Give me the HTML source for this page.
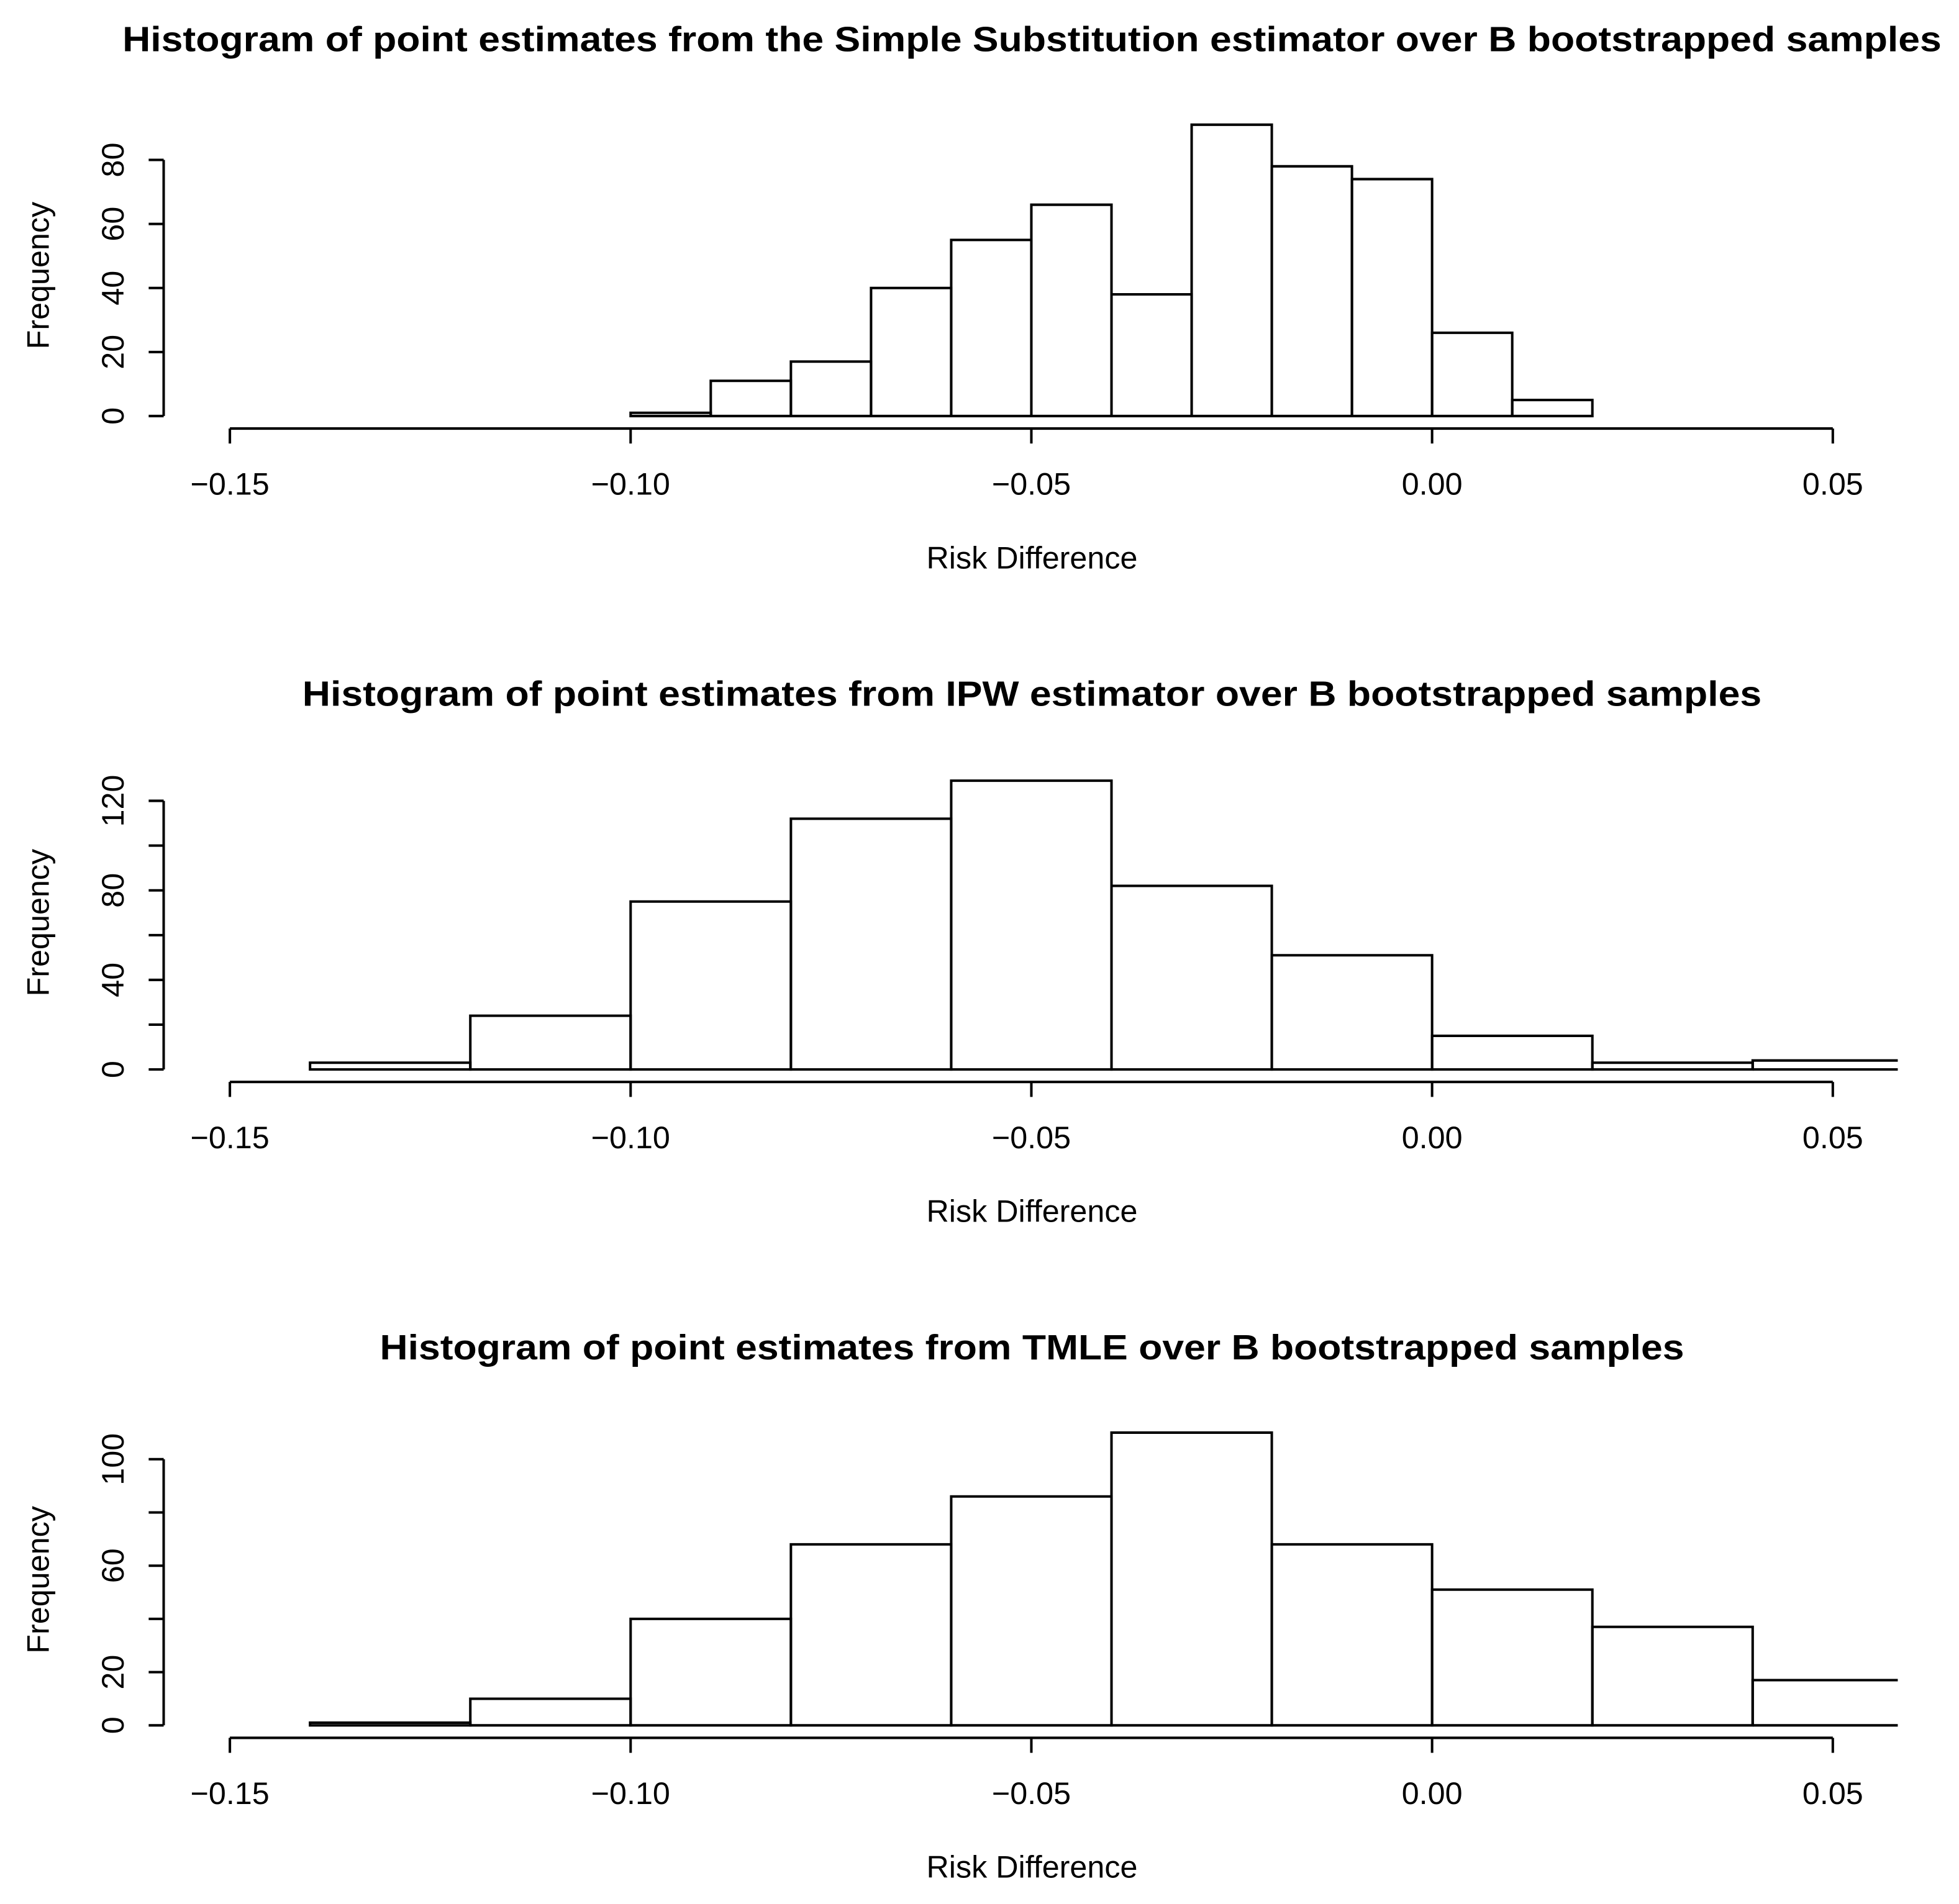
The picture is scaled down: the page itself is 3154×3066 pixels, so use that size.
<!DOCTYPE html>
<html><head><meta charset="utf-8"><style>html,body{margin:0;padding:0;background:#fff}svg{display:block}</style></head>
<body>
<svg id="chart" width="3154" height="3066" viewBox="0 0 1568 1524" preserveAspectRatio="none" xmlns="http://www.w3.org/2000/svg" font-family="Liberation Sans, Arial, sans-serif"></svg>
<script>
const ssStart = -0.10, ssWidth = 0.01;
const ssCounts = [1, 11, 17, 40, 55, 66, 38, 91, 78, 74, 26, 5];
const ipwStart = -0.14, ipwWidth = 0.02;
const ipwCounts = [3, 24, 75, 112, 129, 82, 51, 15, 3, 4];
const tmleStart = -0.14, tmleWidth = 0.02;
const tmleCounts = [1, 10, 40, 68, 86, 110, 68, 51, 37, 17];
const xTicks = [-0.15, -0.10, -0.05, 0.00, 0.05];
const xTickLabels = ["\u22120.15", "\u22120.10", "\u22120.05", "0.00", "0.05"];
const titles = [
  "Histogram of point estimates from the Simple Substitution estimator over B bootstrapped samples",
  "Histogram of point estimates from IPW estimator over B bootstrapped samples",
  "Histogram of point estimates from TMLE over B bootstrapped samples"
];
const yTicks1 = [0, 20, 40, 60, 80], yLabels1 = [0, 20, 40, 60, 80];
const yTicks2 = [0, 20, 40, 60, 80, 100, 120], yLabels2 = [0, 40, 80, 120];
const yTicks3 = [0, 20, 40, 60, 80, 100], yLabels3 = [0, 20, 60, 100];

const NS = "http://www.w3.org/2000/svg";
const svg = document.getElementById("chart");
function mk(tag, attrs, parent) {
  const e = document.createElementNS(NS, tag);
  for (const k in attrs) e.setAttribute(k, attrs[k]);
  (parent || svg).appendChild(e);
  return e;
}
const xScale = v => 184 + (v + 0.15) / 0.20 * (1467 - 184);
const clipRight = 1519;

const panels = [
  {title: titles[0], titleX: 826, titleW: 1456, top: 31, base: 333, perUnit: (333 - 128) / 80, start: ssStart, width: ssWidth, counts: ssCounts, yt: yTicks1, yl: yLabels1, name: "simple-substitution"},
  {title: titles[1], titleX: 826, titleW: 1168, top: 555, base: 856, perUnit: (856 - 641) / 120, start: ipwStart, width: ipwWidth, counts: ipwCounts, yt: yTicks2, yl: yLabels2, name: "ipw"},
  {title: titles[2], titleX: 826, titleW: 1044, top: 1078, base: 1381, perUnit: (1381 - 1168) / 100, start: tmleStart, width: tmleWidth, counts: tmleCounts, yt: yTicks3, yl: yLabels3, name: "tmle"}
];

panels.forEach((p, pi) => {
  const g = mk("g", {});
  
  
  const yS = v => p.base - v * p.perUnit;
  const t = mk("text", {x: p.titleX, y: p.top + 10, "text-anchor": "middle", "font-size": 28, "font-weight": "bold", textLength: p.titleW, lengthAdjust: "spacingAndGlyphs"}, g);
  t.textContent = p.title;
  
  
  p.counts.forEach((c, i) => {
    const x0 = xScale(p.start + i * p.width);
    let x1 = xScale(p.start + (i + 1) * p.width);
    const y = yS(c);
    const bar = mk("path", {fill: "none", stroke: "#000", "stroke-width": 2,
      d: x1 > clipRight ? `M${x0},${p.base} L${x0},${y} L${clipRight},${y} M${x0},${p.base} L${clipRight},${p.base}` :
        `M${x0},${p.base} L${x0},${y} L${x1},${y} L${x1},${p.base} Z`}, g);
    
    
  });
  const axY = p.base + 10;
  const xa = mk("line", {x1: xScale(xTicks[0]), x2: xScale(xTicks[xTicks.length - 1]), y1: axY, y2: axY, stroke: "#000", "stroke-width": 2}, g);
  
  
  xTicks.forEach((v, i) => {
    mk("line", {x1: xScale(v), x2: xScale(v), y1: axY, y2: axY + 12, stroke: "#000", "stroke-width": 2}, g);
    const l = mk("text", {x: xScale(v), y: axY + 53, "text-anchor": "middle", "font-size": 25}, g);
    l.textContent = xTickLabels[i];
    
    
  });
  const xt = mk("text", {x: 826, y: axY + 112, "text-anchor": "middle", "font-size": 25}, g);
  xt.textContent = "Risk Difference";
  
  
  const ya = mk("line", {x1: 131, x2: 131, y1: yS(p.yt[0]), y2: yS(p.yt[p.yt.length - 1]), stroke: "#000", "stroke-width": 2}, g);
  
  
  p.yt.forEach(v => mk("line", {x1: 119, x2: 131, y1: yS(v), y2: yS(v), stroke: "#000", "stroke-width": 2}, g));
  p.yl.forEach(v => {
    const l = mk("text", {x: 0, y: 0, transform: `translate(99,${yS(v)}) rotate(-90)`, "text-anchor": "middle", "font-size": 25}, g);
    l.textContent = String(v);
    
    
  });
  const midY = (yS(p.yt[0]) + yS(p.yt[p.yt.length - 1])) / 2 - 10;
  const yt = mk("text", {x: 0, y: 0, transform: `translate(39,${midY}) rotate(-90)`, "text-anchor": "middle", "font-size": 25}, g);
  yt.textContent = "Frequency";
  
  
});
</script>
</body></html>
